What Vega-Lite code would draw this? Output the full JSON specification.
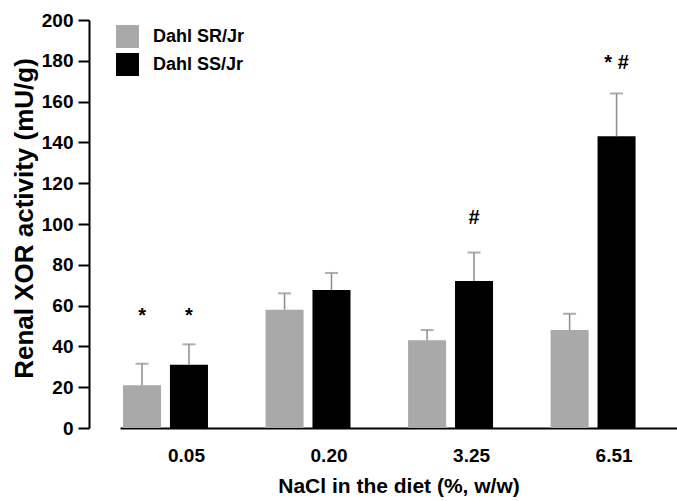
{
  "$schema": "https://vega.github.io/schema/vega-lite/v6.json",
  "width": 557,
  "height": 408,
  "autosize": {"type": "none"},
  "padding": {"left": 120, "top": 20, "right": 0, "bottom": 73},
  "background": "white",
  "config": {
    "view": {"stroke": null},
    "font": "Liberation Sans"
  },
  "datasets": {
    "bars": [
      {"NaCl": "0.05", "strain": "Dahl SR/Jr", "mean": 21, "upper": 31.5},
      {"NaCl": "0.05", "strain": "Dahl SS/Jr", "mean": 31, "upper": 41},
      {"NaCl": "0.20", "strain": "Dahl SR/Jr", "mean": 58, "upper": 66},
      {"NaCl": "0.20", "strain": "Dahl SS/Jr", "mean": 67.6, "upper": 76},
      {"NaCl": "3.25", "strain": "Dahl SR/Jr", "mean": 43, "upper": 48},
      {"NaCl": "3.25", "strain": "Dahl SS/Jr", "mean": 72, "upper": 86},
      {"NaCl": "6.51", "strain": "Dahl SR/Jr", "mean": 48, "upper": 56},
      {"NaCl": "6.51", "strain": "Dahl SS/Jr", "mean": 143, "upper": 164}
    ],
    "marks": [
      {"NaCl": "0.05", "strain": "Dahl SR/Jr", "label": "*", "pos": 55},
      {"NaCl": "0.05", "strain": "Dahl SS/Jr", "label": "*", "pos": 55},
      {"NaCl": "3.25", "strain": "Dahl SS/Jr", "label": "#", "pos": 103},
      {"NaCl": "6.51", "strain": "Dahl SS/Jr", "label": "* #", "pos": 179}
    ]
  },
  "encoding": {
    "x": {
      "field": "NaCl",
      "type": "nominal",
      "sort": ["0.05", "0.20", "3.25", "6.51"],
      "scale": {"paddingInner": 0.404, "paddingOuter": 0.156, "align": 0.068},
      "axis": {
        "title": "NaCl in the diet (%, w/w)",
        "titleFont": "Liberation Sans",
        "titleFontSize": 21,
        "titleFontWeight": "bold",
        "titleColor": "#000",
        "titlePadding": 10,
        "labelAngle": 0,
        "labelFont": "Liberation Sans",
        "labelFontSize": 19,
        "labelFontWeight": "bold",
        "labelColor": "#000",
        "labelOffset": 21,
        "labelPadding": 18,
        "ticks": false,
        "domainColor": "#000",
        "domainWidth": 2
      }
    },
    "xOffset": {
      "field": "strain",
      "type": "nominal",
      "scale": {"paddingInner": 0.19, "paddingOuter": 0}
    }
  },
  "layer": [
    {
      "data": {"name": "bars"},
      "mark": {"type": "bar"},
      "encoding": {
        "y": {
          "field": "mean",
          "type": "quantitative",
          "scale": {"domain": [0, 200], "nice": false},
          "axis": {
            "title": "Renal XOR activity (mU/g)",
            "titleFont": "Liberation Sans",
            "titleFontSize": 26,
            "titleFontWeight": "bold",
            "titleColor": "#000",
            "titlePadding": 4,
            "titleY": 198,
            "values": [0, 20, 40, 60, 80, 100, 120, 140, 160, 180, 200],
            "grid": false,
            "offset": 31,
            "tickSize": 11,
            "tickWidth": 2,
            "tickColor": "#000",
            "domainColor": "#000",
            "domainWidth": 2,
            "labelFont": "Liberation Sans",
            "labelFontSize": 19,
            "labelFontWeight": "bold",
            "labelColor": "#000",
            "labelPadding": 5
          }
        },
        "color": {
          "field": "strain",
          "type": "nominal",
          "scale": {"domain": ["Dahl SR/Jr", "Dahl SS/Jr"], "range": ["#a9a9a9", "#000000"]},
          "legend": {
            "title": null,
            "orient": "none",
            "legendX": -4,
            "legendY": 5,
            "padding": 0,
            "symbolType": "square",
            "symbolSize": 529,
            "symbolStrokeWidth": 0,
            "symbolOpacity": 1,
            "labelFont": "Liberation Sans",
            "labelFontSize": 18,
            "labelFontWeight": "bold",
            "labelColor": "#000",
            "labelOffset": 14,
            "rowPadding": 5
          }
        }
      }
    },
    {
      "data": {"name": "bars"},
      "mark": {"type": "rule", "color": "#8c8c8c", "strokeWidth": 1.5},
      "encoding": {
        "y": {"field": "mean", "type": "quantitative"},
        "y2": {"field": "upper"}
      }
    },
    {
      "data": {"name": "bars"},
      "mark": {"type": "tick", "color": "#8c8c8c", "thickness": 2, "size": 13, "orient": "horizontal"},
      "encoding": {
        "y": {"field": "upper", "type": "quantitative"}
      }
    },
    {
      "data": {"name": "marks"},
      "mark": {"type": "text", "font": "Liberation Sans", "fontSize": 20, "fontWeight": "bold", "color": "#000", "baseline": "middle"},
      "encoding": {
        "y": {"field": "pos", "type": "quantitative"},
        "text": {"field": "label"}
      }
    }
  ]
}
